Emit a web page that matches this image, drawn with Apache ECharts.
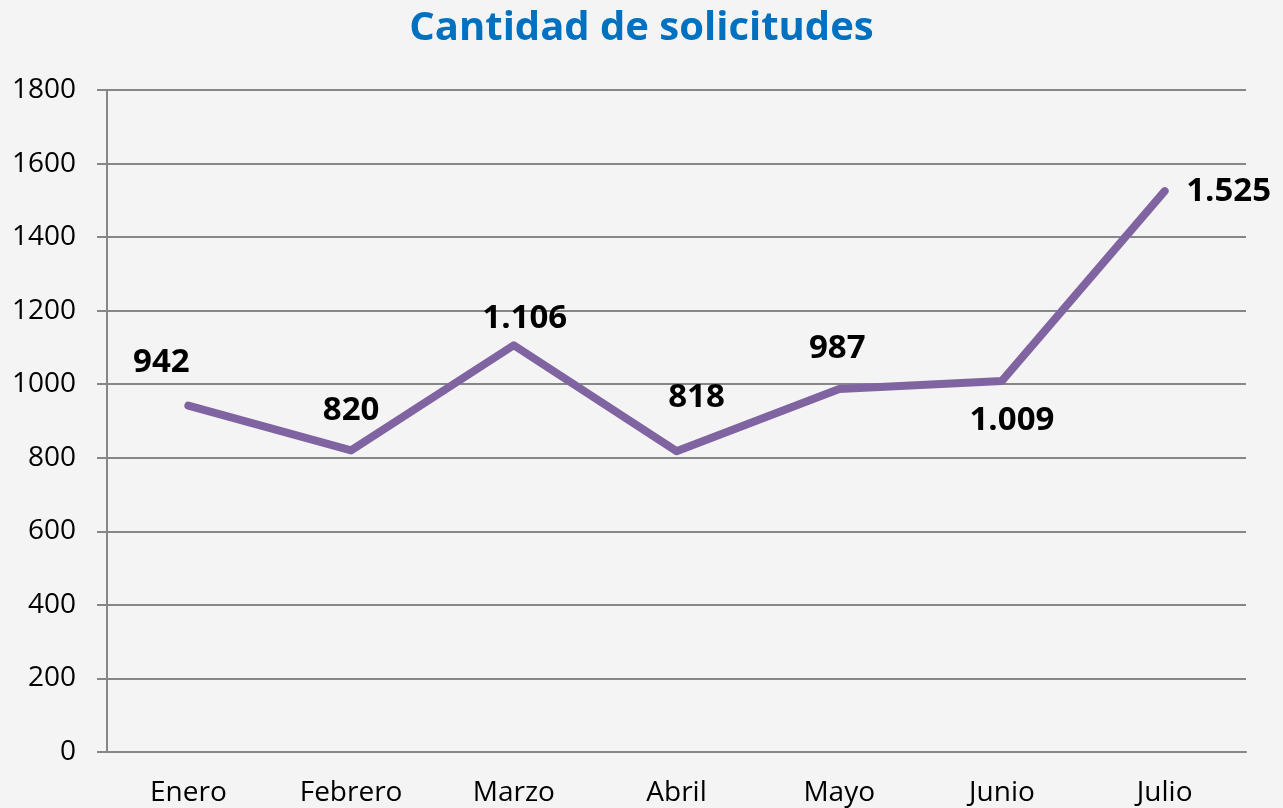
<!DOCTYPE html>
<html>
<head>
<meta charset="utf-8">
<title>Cantidad de solicitudes</title>
<script src="https://cdn.jsdelivr.net/npm/echarts@6/dist/echarts.min.js"></script>
<style>
  html, body { margin: 0; padding: 0; background: #f4f4f4; }
  #chart { width: 1283px; height: 808px; }
</style>
</head>
<body>
<div id="chart"></div>
<script>
// datos
const meses = ['Enero', 'Febrero', 'Marzo', 'Abril', 'Mayo', 'Junio', 'Julio']
const solicitudes = [942, 820, 1106, 818, 987, 1009, 1525]
const yTicks = [0, 200, 400, 600, 800, 1000, 1200, 1400, 1600, 1800]

// desplazamiento de cada etiqueta respecto al punto
const labelOffsets = [[-27, -43], [0, -40], [11, -27], [20, -54], [-2, -40], [10, 40], [64, 0]]

// formato con punto de miles
function fmt(v) {
  return String(v).replace(/\B(?=(\d{3})+(?!\d))/g, '.')
}

const chart = echarts.init(document.getElementById('chart'))

chart.setOption({
  backgroundColor: '#f4f4f4',
  title: {
    text: 'Cantidad de solicitudes',
    left: 'center',
    top: 4,
    textStyle: {
      fontFamily: 'Open Sans',
      fontSize: 40,
      fontWeight: 'bold',
      color: '#0070C0'
    }
  },
  grid: {
    left: 107,
    right: 37,
    top: 90,
    bottom: 56
  },
  xAxis: {
    type: 'category',
    data: meses,
    boundaryGap: true,
    axisLine: { lineStyle: { color: '#868686', width: 2 } },
    axisTick: { length: 10, lineStyle: { color: '#868686', width: 2 } },
    axisLabel: {
      margin: 27,
      fontFamily: 'Open Sans',
      fontSize: 28,
      color: '#000'
    }
  },
  yAxis: {
    type: 'value',
    min: yTicks[0],
    max: yTicks[yTicks.length - 1],
    interval: yTicks[1] - yTicks[0],
    axisLine: { show: true, lineStyle: { color: '#868686', width: 2 } },
    axisTick: { show: true, length: 10, lineStyle: { color: '#868686', width: 2 } },
    axisLabel: {
      margin: 31,
      fontFamily: 'Open Sans',
      fontSize: 28,
      color: '#000',
      formatter: v => String(v)
    },
    splitLine: { lineStyle: { color: '#868686', width: 2 } }
  },
  series: [
    {
      type: 'line',
      data: solicitudes.map((v, i) => ({
        value: v,
        label: { offset: labelOffsets[i] }
      })),
      symbol: 'circle',
      symbolSize: 2,
      showSymbol: true,
      itemStyle: { color: '#8064A2' },
      lineStyle: { color: '#8064A2', width: 8, cap: 'round', join: 'round' },
      label: {
        show: true,
        position: 'inside',
        formatter: p => fmt(p.value),
        fontFamily: 'Open Sans',
        fontSize: 33,
        fontWeight: 'bold',
        color: '#000'
      },
      animation: false
    }
  ]
})
</script>
</body>
</html>
